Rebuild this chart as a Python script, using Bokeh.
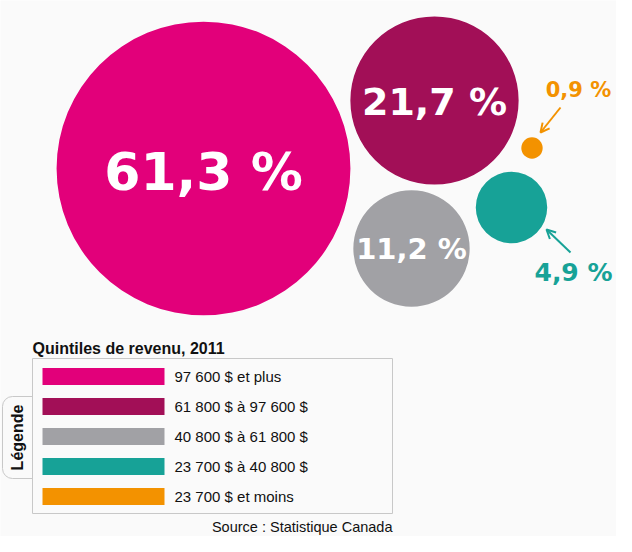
import math

from bokeh.core.properties import value
from bokeh.embed import file_html
from bokeh.models import Arrow, OpenHead, Range1d
from bokeh.plotting import figure
from bokeh.resources import INLINE

# --- données ---
quintiles = ["97 600 $ et plus", "61 800 $ à 97 600 $", "40 800 $ à 61 800 $",
             "23 700 $ à 40 800 $", "23 700 $ et moins"]
parts = [61.3, 21.7, 11.2, 4.9, 0.9]
titre_legende = "Quintiles de revenu, 2011"
source = "Source : Statistique Canada"

# --- style / mise en page ---
couleurs = ["#e2007a", "#a20f57", "#a1a1a5", "#17a297", "#f39200"]
FOND = "#fafafa"
BORD = "#c8c8c8"

# centres des bulles (px de l'image)
centre_x = [203, 434, 411, 511, 531.5]
centre_y = [168, 100, 248, 207, 147.5]
# position des étiquettes
etiq_x = [203, 434, 411, 573, 578]
etiq_y = [171, 101, 248, 272, 89]
etiq_taille = ["52px", "38px", "29px", "25px", "21px"]
etiq_couleur = ["white", "white", "white", couleurs[3], couleurs[4]]


def rayon(v):
    # échelle racine carrée (aire ~ valeur)
    return 19.8 * math.sqrt(v) - 8.1


def fmt(v):
    return f"{v:.1f}".replace(".", ",") + " %"


p = figure(width=616, height=536, x_range=Range1d(0, 616), y_range=Range1d(536, 0),
           x_axis_type=None, y_axis_type=None, toolbar_location=None,
           output_backend="svg", min_border=0)
p.grid.visible = False
p.outline_line_color = None
p.background_fill_color = FOND
p.border_fill_color = FOND

p.circle(centre_x, centre_y, radius=[rayon(v) for v in parts],
         fill_color=couleurs, line_color=None)

for i, v in enumerate(parts):
    p.text([etiq_x[i]], [etiq_y[i]], text=[fmt(v)], text_color=etiq_couleur[i],
           text_font=value("DejaVu Sans"), text_font_style="bold",
           text_font_size=etiq_taille[i], text_align="center", text_baseline="middle")

# flèches
p.add_layout(Arrow(end=OpenHead(size=9, line_color=couleurs[4], line_width=2),
                   x_start=560, y_start=107, x_end=540, y_end=132,
                   line_color=couleurs[4], line_width=2))
p.add_layout(Arrow(end=OpenHead(size=9, line_color=couleurs[3], line_width=2),
                   x_start=570, y_start=252, x_end=546, y_end=229,
                   line_color=couleurs[3], line_width=2))

# légende
p.text([32], [348], text=[titre_legende], text_font=value("Liberation Sans"),
       text_font_style="bold", text_font_size="16px", text_color="#111111",
       text_baseline="middle")
p.quad(left=2, right=44, top=396, bottom=478, fill_color=FOND, line_color=BORD,
       line_width=1, border_radius=10)
p.quad(left=32, right=392, top=358, bottom=513, fill_color=FOND, line_color=BORD,
       line_width=1)
p.text([17], [437], text=["Légende"], angle=math.pi / 2, text_font=value("Liberation Sans"),
       text_font_style="bold", text_font_size="16px", text_color="#111111",
       text_align="center", text_baseline="middle")

rangs = [376 + 30 * i for i in range(len(quintiles))]
p.quad(left=42, right=164, top=[y - 8.5 for y in rangs], bottom=[y + 8.5 for y in rangs],
       fill_color=couleurs, line_color=None)
p.text([174] * len(quintiles), rangs, text=quintiles, text_font=value("Liberation Sans"),
       text_font_size="15px", text_color="#111111", text_baseline="middle")

p.text([392], [526], text=[source], text_font=value("Liberation Sans"),
       text_font_size="14.5px", text_color="#111111", text_align="right",
       text_baseline="middle")

open("out.html", "w").write(file_html(p, INLINE))
